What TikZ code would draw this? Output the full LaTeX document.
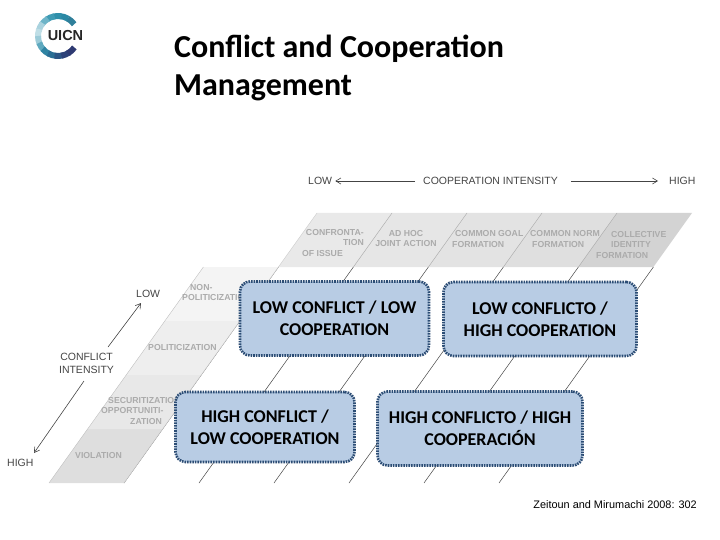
\documentclass[tikz,border=0pt]{standalone}
\usepackage{fontspec}
\setmainfont{Carlito}
\setsansfont{Liberation Sans}
\usepackage{xcolor}
\usetikzlibrary{positioning,arrows.meta}
\definecolor{boxfill}{HTML}{B8CCE4}
\definecolor{boxline}{HTML}{2C4D75}
\definecolor{lblgray}{HTML}{ABABAB}
\definecolor{axisgray}{HTML}{444444}

\begin{document}
\begin{tikzpicture}[x=1pt,y=-1pt,
   quad/.style={draw=boxline,fill=boxfill,line width=2.6pt,rounded corners=10pt,
              dash pattern=on 1.6pt off 1pt,align=center,inner sep=0pt,
              font=\bfseries\fontsize{18}{22}\selectfont,text=black},
   cell/.style={font=\sffamily\bfseries\fontsize{8.7}{10.5}\selectfont,text=lblgray,
              inner sep=0pt},
   axis/.style={font=\sffamily\fontsize{10.5}{13}\selectfont,text=axisgray,
              inner sep=0pt,align=center},
   link/.style={->,axisgray,line width=.6pt,>={Straight Barb[length=5pt,width=6pt]}},
]
\useasboundingbox (0,0) rectangle (720,540);

% ----- logo
\foreach \ang/\hex in {36/2F7F9A,60/2A88A4,80/2F8FAA,100/3F9BB4,120/6DB4C8,
      140/A9D2DE,160/BFDEE6,180/9CCBD8,200/5FA9BF,220/2F84A3,240/2A6E95,
      260/2B5585,280/2C4279,300/2E3A72}{
  \definecolor{ringcol}{HTML}{\hex}
  \draw[line width=6pt,ringcol] (58,36) ++(-\ang:20) arc[start angle=-\ang,
      delta angle=-25,radius=20];
}
\node[font=\sffamily\bfseries\fontsize{14.5}{16}\selectfont,text=black!85,inner sep=0pt]
   (logo) at (65.5,36) {UICN};

% ----- title
\node[font=\bfseries\fontsize{32}{38.5}\selectfont,align=left,anchor=north west,inner sep=0pt]
   (title) at (174,34.5) {Conflict and Cooperation\\Management};

% ----- skewed grid
\begin{scope}[shift={(0,483)},x=1pt,y={(.7148pt,1pt)}]
  \foreach \xb in {124,199,274,349,424,499}
    \draw[axisgray,line width=.5pt] (\xb,0) -- (\xb,216);
  % left band
  \foreach \low/\hex in {0/DEDEDE,54/E8E8E8,108/EEEEEE,162/F4F4F4}{
    \definecolor{cellcol}{HTML}{\hex}
    \fill[cellcol] (49,\low) -- (124,\low) -- (124,\low+54) -- (49,\low+54) -- cycle;
  }
  % top band
  \foreach \xb/\hex in {124/E9E9E9,199/E6E6E6,274/E3E3E3,349/DFDFDF,424/D3D3D3}{
    \definecolor{cellcol}{HTML}{\hex}
    \fill[cellcol] (\xb,216) -- (\xb+75,216) -- (\xb+75,270) -- (\xb,270) -- cycle;
  }
  \foreach \xb in {199,274,349,424}
    \draw[black!35,line width=.4pt] (\xb,216) -- (\xb,270);
  \draw[black!25,line width=.4pt] (49,0) -- (49,216);
  \draw[black!20,line width=.4pt] (124,0) -- (124,270);
\end{scope}

% ----- top band labels
\node[cell,align=right,anchor=east] (confr) at (364,237.5) {CONFRONTA-\\TION};
\node[cell,anchor=west] (issue) at (302,254) {OF ISSUE};
\node[cell,align=center] (adhoc) at (406,238.5) {AD HOC\\JOINT ACTION};
\node[cell,anchor=west] (cgoal) at (455,234) {COMMON GOAL};
\node[cell,anchor=west] (cgoalf) at (452,245) {FORMATION};
\node[cell,anchor=west] (cnorm) at (530,234) {COMMON NORM};
\node[cell,anchor=west] (cnormf) at (532,245) {FORMATION};
\node[cell,anchor=west] (collect) at (611,235) {COLLECTIVE};
\node[cell,anchor=west] (ident) at (611,245) {IDENTITY};
\node[cell,anchor=west] (identf) at (596,256) {FORMATION};

% ----- left band labels
\node[cell,anchor=west] (nonpol) at (190,288) {NON-};
\node[cell,anchor=west] (nonpolb) at (182,298) {POLITICIZATION};
\node[cell,anchor=west] (polit) at (148,348) {POLITICIZATION};
\node[cell,anchor=west] (secur) at (108,401) {SECURITIZATION};
\node[cell,anchor=west] (oppor) at (101,411) {OPPORTUNITI-};
\node[cell,anchor=west] (zation) at (130,422) {ZATION};
\node[cell,anchor=west] (viol) at (75,456) {VIOLATION};

% ----- axes
\node[axis,anchor=west] (coopint) at (423,181) {COOPERATION INTENSITY};
\node[axis,anchor=west] (cooplow) at (308,181) {LOW};
\node[axis,anchor=west] (coophigh) at (669,181) {HIGH};
\node[axis] (confint) at (86.5,363.5) {CONFLICT\\INTENSITY};
\node[axis,anchor=west] (conflow) at (136,294) {LOW};
\node[axis,anchor=west] (confhigh) at (7,463) {HIGH};
\draw[link,shorten <=8pt,shorten >=3pt] (coopint) -- (cooplow);
\draw[link,shorten <=13pt,shorten >=11pt] (coopint) -- (coophigh);
\draw[link] (108,347) coordinate (clowa) -- (141,303) coordinate (clowb);
\draw[link] (84,381) coordinate (chigha) -- (34,453) coordinate (chighb);

% ----- quadrants
\node[quad,minimum width=189pt,minimum height=74pt] (lowlow) at (334.5,318.5)
   {LOW CONFLICT / LOW\\COOPERATION};
\node[quad,minimum width=193pt,minimum height=74pt] (lowhigh) at (540,319)
   {LOW CONFLICTO /\\HIGH COOPERATION};
\node[quad,minimum width=179pt,minimum height=70pt] (highlow) at (265,427)
   {HIGH CONFLICT /\\LOW COOPERATION};
\node[quad,minimum width=205pt,minimum height=74pt] (highhigh) at (480,428.5)
   {HIGH CONFLICTO / HIGH\\COOPERACIÓN};

% ----- source
\node[font=\sffamily\fontsize{10.9}{13}\selectfont,anchor=east,inner sep=0pt] (source)
   at (697,505) {Zeitoun and Mirumachi 2008: 302};
\end{tikzpicture}
\end{document}
